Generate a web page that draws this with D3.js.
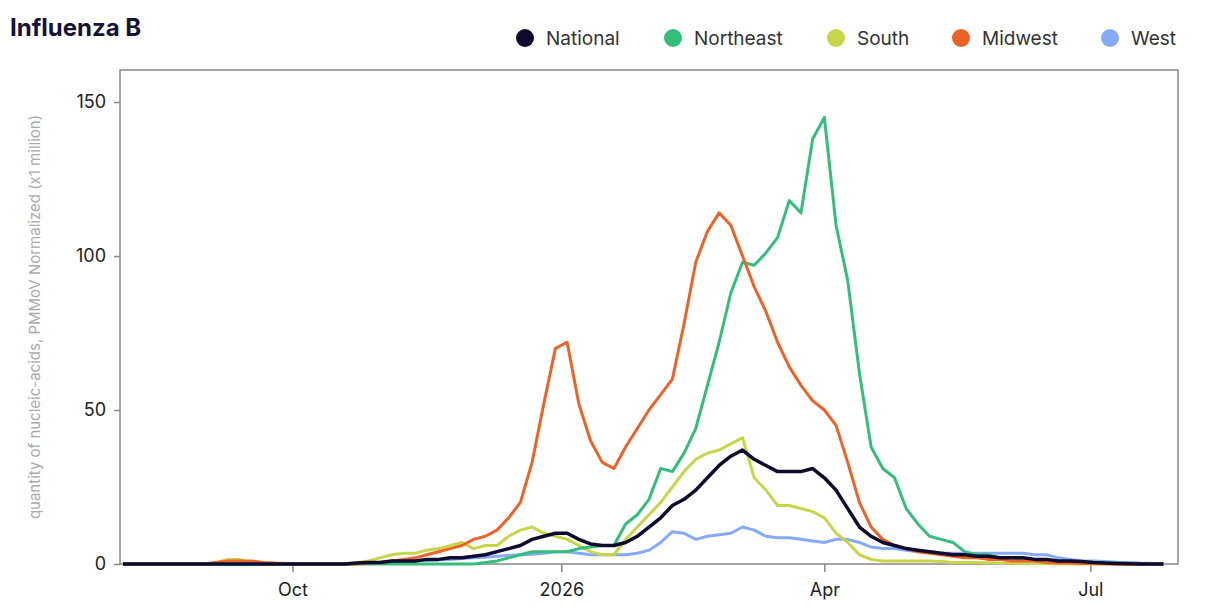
<!DOCTYPE html>
<html>
<head>
<meta charset="utf-8">
<script src="https://cdn.jsdelivr.net/npm/d3@7"></script>
<style>
  body { margin: 0; background: #fff; font-family: Inter, "Noto Sans", sans-serif; }
</style>
</head>
<body>
<svg id="chart" width="1222" height="616"></svg>
<script>
// samples every 4 days starting 2025-08-04
var startDate = new Date(2025, 7, 4);
var stepDays = 4;

var national = [0,0,0,0,0, 0,0,0,0,0, 0,0,0,0,0, 0,0,0,0,0,
  0.3,0.5,0.5,1,1, 1,1.5,1.5,2,2, 2.5,3,4,5,6, 8,9,10,10,8,
  6.5,6,6,7,9, 12,15,19,21,24, 28,32,35,37,34, 32,30,30,30,31,
  28,24,18,12,9, 7,6,5,4.5,4, 3.5,3,3,2.5,2.5, 2,2,2,1.5,1.5,
  1,1,0.8,0.5,0.3, 0.2,0.1,0,0,0];
var northeast = [0,0,0,0,0, 0,0,0,0,0, 0,0,0,0,0, 0,0,0,0,0,
  0,0,0,0,0, 0,0,0,0,0, 0,0.5,1,2,3, 4,4,4,4,5,
  5.5,6,6,13,16, 21,31,30,36,44, 58,72,88,98,97, 101,106,118,114,138,
  145,110,92,62,38, 31,28,18,13,9, 8,7,4,3,3, 2,2,1.5,1.5,1,
  1,0.8,0.6,0.5,0.4, 0.3,0.2,0.1,0,0];
var south = [0,0,0,0,0, 0,0,0,0.5,1.5, 1.5,0.3,0,0,0, 0,0,0,0,0,
  0.5,1,2,3,3.5, 3.5,4.5,5,6,7, 5,6,6,9,11, 12,10,9,8,6,
  4,3,3,8,12, 16,20,25,30,34, 36,37,39,41,28, 24,19,19,18,17,
  15,10,7,3,1.5, 1,1,1,1,1, 0.8,0.5,0.5,0.5,0.4, 0.3,0.3,0.2,0.2,0.1,
  0.1,0,0,0,0, 0,0,0,0,0];
var midwest = [0,0,0,0,0, 0,0,0,0.5,1, 1,1,0.5,0.3,0.2, 0,0,0,0,0,
  0,0.3,0.5,1,1.5, 2,3,4,5,6, 8,9,11,15,20, 33,52,70,72,52,
  40,33,31,38,44, 50,55,60,78,98, 108,114,110,100,90, 82,72,64,58,53,
  50,45,33,20,12, 8,6,5,4,3.5, 3,2.5,2,2,1.5, 1.5,1,1,1,0.5,
  0.3,0.3,0.2,0.2,0.1, 0,0,0,0,0];
var west = [0,0,0,0,0, 0,0,0,0,0, 0,0,0,0,0, 0,0,0,0,0,
  0.3,0.4,0.5,0.7,0.8, 1,1.2,1.4,1.5,1.8, 2,2.2,2.5,2.8,3, 3.2,3.5,4,4,3.5,
  3,3,3,3,3.5, 4.5,7,10.5,10,8, 9,9.5,10,12,11, 9,8.5,8.5,8,7.5,
  7,8,8,7,5.5, 5,5,4.5,4,4, 3.5,3.5,3.5,3.5,3.5, 3.5,3.5,3.5,3,3,
  2,1.5,1,1,0.8, 0.6,0.5,0.3,0.2,0.2];

var seriesNames = ["National", "Northeast", "South", "Midwest", "West"];
var seriesColors = ["#0e0b2f", "#35bd7c", "#c8d549", "#ec6328", "#86a9f9"];
var seriesValues = [national, northeast, south, midwest, west];
var yTicks = [0, 50, 100, 150];
var xTickDates = [new Date(2025, 9, 1), new Date(2026, 0, 1), new Date(2026, 3, 1), new Date(2026, 6, 1)];
var xTickLabels = ["Oct", "2026", "Apr", "Jul"];

var svg = d3.select("#chart");
var plotLeft = 120, plotRight = 1178, plotTop = 70, plotBottom = 564;

var x = d3.scaleTime()
  .domain([new Date(2025, 7, 3), new Date(2026, 6, 31)])
  .range([plotLeft, plotRight]);
var y = d3.scaleLinear().domain([0, 160.4]).range([plotBottom, plotTop]);

// title
svg.append("text").attr("x", 10).attr("y", 36)
  .attr("font-size", 24).attr("font-weight", 700).attr("fill", "#141236")
  .text("Influenza B");

// legend
var legendX = [525, 673, 836, 961, 1110];
seriesNames.forEach(function (name, i) {
  svg.append("circle").attr("cx", legendX[i]).attr("cy", 38).attr("r", 9)
    .attr("fill", seriesColors[i]);
  svg.append("text").attr("x", legendX[i] + 21).attr("y", 45)
    .attr("font-size", 19).attr("fill", "#333").text(name);
});

// frame
svg.append("rect").attr("x", plotLeft).attr("y", plotTop)
  .attr("width", plotRight - plotLeft).attr("height", plotBottom - plotTop)
  .attr("fill", "none").attr("stroke", "#888").attr("stroke-width", 1.5);

// axes
var yAxis = svg.append("g").attr("transform", "translate(" + plotLeft + ",0)")
  .call(d3.axisLeft(y).tickValues(yTicks).tickSize(6).tickPadding(8));
var xAxis = svg.append("g").attr("transform", "translate(0," + plotBottom + ")")
  .call(d3.axisBottom(x).tickValues(xTickDates).tickSize(8).tickPadding(8)
    .tickFormat(function (d, i) { return xTickLabels[i]; }));
[yAxis, xAxis].forEach(function (g) {
  g.select(".domain").remove();
  g.selectAll("line").attr("stroke", "#888").attr("stroke-width", 1.5);
  g.selectAll("text").attr("font-size", 18).attr("fill", "#222")
    .attr("font-family", "Inter, 'Noto Sans', sans-serif");
});
xAxis.selectAll("text").attr("dy", "0.9em");

svg.append("text")
  .attr("transform", "translate(40," + ((plotTop + plotBottom) / 2) + ") rotate(-90)")
  .attr("text-anchor", "middle").attr("font-size", 15).attr("fill", "#aaa")
  .text("quantity of nucleic-acids, PMMoV Normalized (x1 million)");

// lines
var line = d3.line()
  .x(function (d, i) { return x(d3.timeDay.offset(startDate, i * stepDays)); })
  .y(function (d) { return y(d); });

var drawOrder = [4, 2, 1, 3, 0];
drawOrder.forEach(function (k) {
  svg.append("path").datum(seriesValues[k])
    .attr("d", line).attr("fill", "none")
    .attr("stroke", seriesColors[k]).attr("stroke-width", k == 0 ? 3.5 : 3)
    .attr("stroke-linejoin", "round");
});
</script>
</body>
</html>
